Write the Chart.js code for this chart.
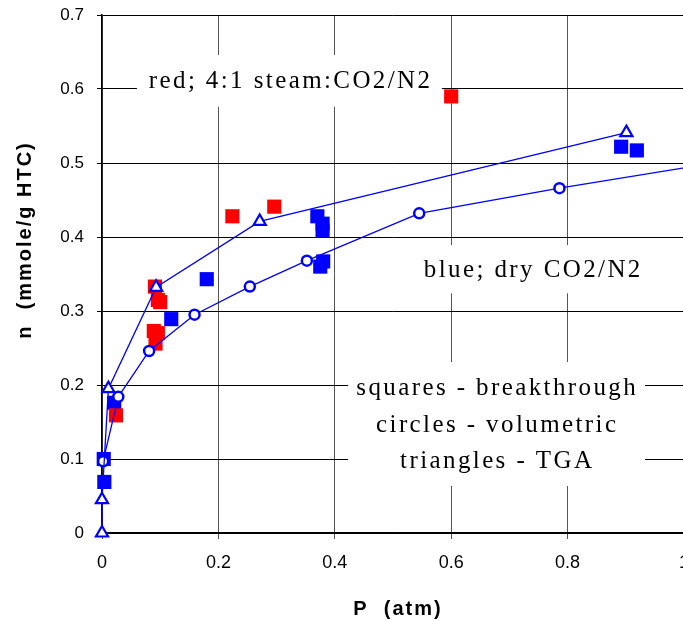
<!DOCTYPE html>
<html>
<head>
<meta charset="utf-8">
<script src="https://cdn.jsdelivr.net/npm/chart.js@4.4.0/dist/chart.umd.min.js"></script>
<style>
  html, body { margin: 0; padding: 0; overflow: hidden; background: #fff; }
  canvas { display: block; }
</style>
</head>
<body>
<canvas id="grafico" width="700" height="621"></canvas>
<script>
// pressão (atm) e carga n (mmole/g HTC)
const redSqX = [0.024, 0.091, 0.096, 0.100, 0.089, 0.096, 0.092, 0.224, 0.296, 0.600];
const redSqY = [0.159, 0.333, 0.315, 0.312, 0.273, 0.270, 0.256, 0.428, 0.441, 0.590];

const blueSqX = [0.003, 0.004, 0.021, 0.119, 0.180, 0.370, 0.379, 0.379, 0.375, 0.380, 0.892, 0.919];
const blueSqY = [0.100, 0.069, 0.176, 0.289, 0.343, 0.428, 0.418, 0.409, 0.360, 0.367, 0.522, 0.517];

const circX = [0.002, 0.028, 0.081, 0.159, 0.254, 0.352, 0.545, 0.786, 1.200];
const circY = [0.097, 0.184, 0.246, 0.295, 0.333, 0.368, 0.432, 0.466, 0.519];

const triX = [0.000, 0.000, 0.011, 0.093, 0.271, 0.901];
const triY = [0.000, 0.045, 0.195, 0.332, 0.421, 0.541];

const xTickLabels = ["0", "0.2", "0.4", "0.6", "0.8", "1"];
const yTickLabels = ["0", "0.1", "0.2", "0.3", "0.4", "0.5", "0.6", "0.7"];

const notas = [
  { box: [0.060, 0.646, 0.584, 0.576], lines: [[0.322, 0.602, "red; 4:1 steam:CO2/N2"]] },
  { box: [0.533, 0.389, 0.947, 0.324], lines: [[0.739, 0.3455, "blue; dry CO2/N2"]] },
  { box: [0.423, 0.231, 0.933, 0.0635], lines: [
      [0.677, 0.1865, "squares - breakthrough"],
      [0.677, 0.137, "circles - volumetric"],
      [0.677, 0.0874, "triangles - TGA"],
  ] },
];

function pontos(xs, ys) {
  return xs.map((x, i) => ({ x: x, y: ys[i] }));
}

const AZUL = "#0000ff";
const VERMELHO = "#ff0000";

// caixas de texto brancas por cima da grade
const notasPlugin = {
  id: "notas",
  beforeDatasetsDraw(chart) {
    const c = chart.ctx;
    const sx = chart.scales.x, sy = chart.scales.y;
    c.save();
    notas.forEach((n) => {
      const x1 = sx.getPixelForValue(n.box[0]), y1 = sy.getPixelForValue(n.box[1]);
      const x2 = sx.getPixelForValue(n.box[2]), y2 = sy.getPixelForValue(n.box[3]);
      c.fillStyle = "#fff";
      c.fillRect(x1, y1, x2 - x1, y2 - y1);
      c.fillStyle = "#000";
      c.font = '25px "Liberation Serif", "Times New Roman", serif';
      c.letterSpacing = "2.4px";
      c.textAlign = "center";
      c.textBaseline = "alphabetic";
      n.lines.forEach((l) => {
        c.fillText(l[2], sx.getPixelForValue(l[0]) + 1.2, sy.getPixelForValue(l[1]));
      });
    });
    c.restore();
  },
  afterDraw(chart) {
    const c = chart.ctx;
    c.save();
    c.fillStyle = "#000";
    c.font = 'bold 20px "Liberation Sans", Arial, sans-serif';
    c.letterSpacing = "2px";
    c.textAlign = "center";
    c.textBaseline = "alphabetic";
    c.fillText("P  (atm)", 398, 615);
    c.translate(31, 240);
    c.rotate(-Math.PI / 2);
    c.fillText("n  (mmole/g HTC)", 0, 0);
    c.restore();
  },
};

new Chart(document.getElementById("grafico"), {
  type: "scatter",
  data: {
    datasets: [
      {
        label: "TGA",
        data: pontos(triX, triY),
        showLine: true,
        borderColor: AZUL,
        borderWidth: 1.3,
        pointStyle: "triangle",
        pointRadius: 7,
        pointBorderWidth: 2.2,
        pointBackgroundColor: "#fff",
        pointBorderColor: AZUL,
        clip: false,
      },
      {
        label: "volumetric",
        data: pontos(circX, circY),
        showLine: true,
        borderColor: AZUL,
        borderWidth: 1.3,
        pointStyle: "circle",
        pointRadius: 5,
        pointBorderWidth: 2.5,
        pointBackgroundColor: "#fff",
        pointBorderColor: AZUL,
        clip: { left: 20, top: 20, right: 0, bottom: 20 },
      },
      {
        label: "steam",
        data: pontos(redSqX, redSqY),
        pointStyle: "rect",
        pointRadius: 10,
        pointBorderWidth: 0,
        pointBackgroundColor: VERMELHO,
        clip: false,
      },
      {
        label: "dry",
        data: pontos(blueSqX, blueSqY),
        pointStyle: "rect",
        pointRadius: 10,
        pointBorderWidth: 0,
        pointBackgroundColor: AZUL,
        clip: false,
      },
    ],
  },
  options: {
    responsive: false,
    animation: false,
    layout: { padding: { left: 0, top: 15, right: 16, bottom: 0 } },
    plugins: { legend: { display: false }, tooltip: { enabled: false } },
    scales: {
      x: {
        type: "linear",
        min: 0,
        max: 1,
        afterFit: (s) => { s.height = 88; s.paddingLeft = 0; s.paddingRight = 0; },
        ticks: {
          stepSize: 0.2,
          padding: 13,
          color: "#000",
          font: { family: '"Liberation Sans", Arial, sans-serif', size: 18 },
          callback: (v, i) => xTickLabels[i],
        },
        grid: { color: "#555", lineWidth: 1, tickLength: 6, tickColor: "#555" },
        border: { color: "#000", width: 1.5 },
      },
      y: {
        type: "linear",
        min: 0,
        max: 0.7,
        afterFit: (s) => { s.width = 102; s.paddingTop = 0; s.paddingBottom = 0; },
        ticks: {
          stepSize: 0.1,
          padding: 13,
          color: "#000",
          font: { family: '"Liberation Sans", Arial, sans-serif', size: 17 },
          callback: (v, i) => yTickLabels[i],
        },
        grid: { color: "#000", lineWidth: 1, tickLength: 5, tickColor: "#000" },
        border: { color: "#000", width: 1.5 },
      },
    },
  },
  plugins: [notasPlugin],
});
</script>
</body>
</html>
